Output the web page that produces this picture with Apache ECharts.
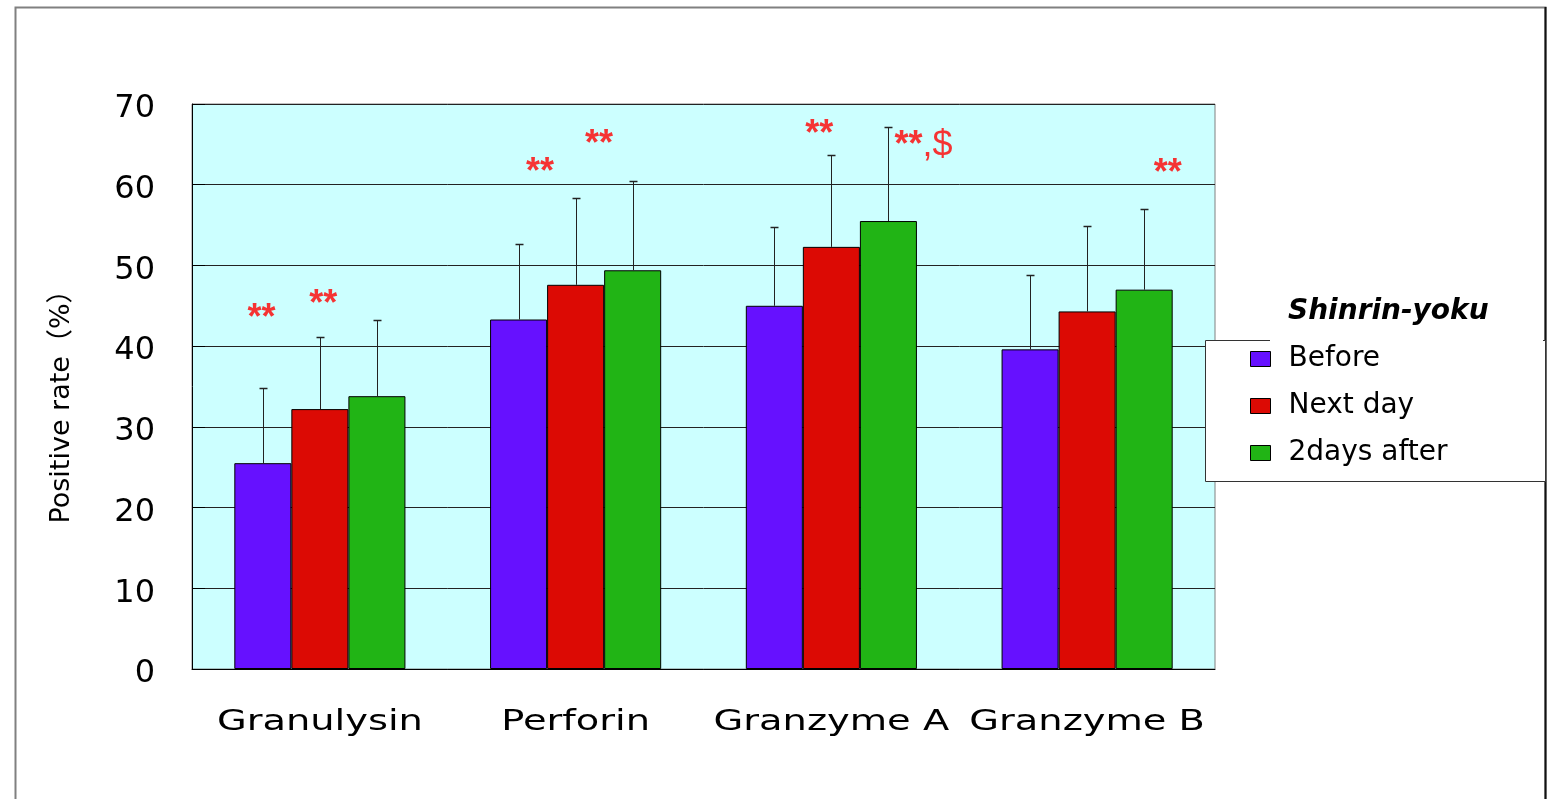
<!DOCTYPE html>
<html>
<head>
<meta charset="utf-8">
<script src="https://cdn.jsdelivr.net/npm/echarts@6/dist/echarts.min.js"></script>
<style>
  html, body { margin: 0; padding: 0; background: #fff; }
  #chart { width: 1548px; height: 799px; }
</style>
</head>
<body>
<div id="chart"></div>
<script>
// Categories and groups
const categories = ['Granulysin', 'Perforin', 'Granzyme A', 'Granzyme B'];
const groupNames = ['Before', 'Next day', '2days after'];

// Mean positive rate (%)
const beforeMean  = [25.5, 43.3, 45.0, 39.6];
const nextDayMean = [32.2, 47.6, 52.3, 44.3];
const twoDaysMean = [33.8, 49.4, 55.5, 47.0];

// Standard deviations (upper error bars)
const beforeSD  = [9.3, 9.3, 9.7, 9.2];
const nextDaySD = [8.9, 10.7, 11.4, 10.6];
const twoDaysSD = [9.5, 11.0, 11.6, 10.0];

// Y axis ticks
const yMin = 0, yMax = 70, yStep = 10;

// Significance marks: text, category, shift within category, level (%)
const markText     = ['**', '**', '**', '**', '**', '**,$', '**'];
const markCategory = [0, 0, 1, 1, 2, 2, 3];
const markShift    = [-0.228, 0.013, -0.139, 0.091, -0.047, 0.36, 0.315];
const markLevel    = [43.3, 45.1, 61.4, 64.9, 66.2, 64.8, 61.3];

const colors = ['#6611ff', '#dc0a04', '#21b415'];
const BAR_FRAC = 0.223;
const FONT = '"DejaVu Sans", "Noto Sans CJK JP", sans-serif';

const means = [beforeMean, nextDayMean, twoDaysMean];
const sds = [beforeSD, nextDaySD, twoDaysSD];

const errorData = [];
means.forEach((arr, s) => arr.forEach((m, c) => errorData.push([c, s, m, sds[s][c]])));

const markData = markText.map((t, i) => ({
  name: t,
  value: [markCategory[i] + markShift[i], markLevel[i]]
}));

const chart = echarts.init(document.getElementById('chart'), null, { renderer: 'canvas' });

const barSeries = groupNames.map((name, s) => ({
  name: name,
  type: 'bar',
  data: means[s],
  barWidth: (BAR_FRAC * 100) + '%',
  barGap: '0%',
  itemStyle: { color: colors[s], borderColor: '#000', borderWidth: 1 },
  emphasis: { disabled: true },
  z: 2
}));

chart.setOption({
  animation: false,
  grid: {
    left: 192, right: 333, top: 104, bottom: 130,
    show: true, backgroundColor: '#ccffff', borderColor: '#808080', borderWidth: 1
  },
  legend: {
    data: groupNames,
    orient: 'vertical',
    left: 1250, top: 345,
    padding: 0,
    icon: 'rect',
    itemWidth: 20, itemHeight: 15, itemGap: 19,
    selectedMode: false,
    itemStyle: { borderColor: '#000', borderWidth: 1 },
    textStyle: { fontFamily: FONT, fontSize: 28, color: '#000', lineHeight: 28, padding: [0, 0, 0, 13] },
    z: 6
  },
  xAxis: [{
    type: 'category',
    data: categories,
    axisLine: { onZero: false, lineStyle: { color: '#000', width: 1 } },
    axisTick: { inside: true, length: 7, lineStyle: { color: '#000' } },
    axisLabel: { show: false },
    splitLine: { show: false }
  }, {
    type: 'value', min: -0.5, max: 3.5, show: false,
    axisLine: { show: false, onZero: false }, splitLine: { show: false }
  }],
  yAxis: {
    type: 'value', min: yMin, max: yMax, interval: yStep,
    axisLine: { show: true, onZero: false, lineStyle: { color: '#000', width: 1 } },
    axisTick: { show: true, inside: true, length: 13, lineStyle: { color: '#000' } },
    axisLabel: {
      margin: 37,
      formatter: '{v|{value}}',
      rich: { v: { fontFamily: FONT, fontSize: 32, color: '#000', padding: [10, 0, 0, 0] } }
    },
    splitLine: { show: true, lineStyle: { color: '#222', width: 1 } }
  },
  series: barSeries.concat([{
    type: 'custom',
    name: 'sd',
    data: errorData,
    encode: { x: 0, y: 2 },
    z: 3,
    silent: true,
    renderItem: function (params, api) {
      const c = api.value(0), s = api.value(1), m = api.value(2), sd = api.value(3);
      const bw = api.size([1, 0])[0] * BAR_FRAC;
      const p0 = api.coord([c, m]);
      const p1 = api.coord([c, m + sd]);
      const x = Math.round(p0[0] + (s - 1) * bw) + 0.5;
      const yTop = Math.round(p1[1]) + 0.5;
      return {
        type: 'group',
        children: [
          { type: 'line', shape: { x1: x, y1: p0[1], x2: x, y2: yTop }, style: { stroke: '#222', lineWidth: 1 } },
          { type: 'line', shape: { x1: x - 4, y1: yTop, x2: x + 4, y2: yTop }, style: { stroke: '#222', lineWidth: 1.5 } }
        ]
      };
    }
  }, {
    type: 'scatter',
    name: 'marks',
    xAxisIndex: 1,
    yAxisIndex: 0,
    data: markData,
    symbolSize: 0,
    silent: true,
    z: 4,
    label: {
      show: true, position: 'inside',
      formatter: (p) => p.name.replace(/\*+/g, (m) => '{s|' + m + '}').replace(/,\$/, '{d|,$}'),
      align: 'center', verticalAlign: 'middle',
      rich: {
        s: { color: '#ff0000', fontFamily: '"Liberation Sans", Arial, sans-serif', fontSize: 36, fontWeight: 'bold' },
        d: { color: '#ff0000', fontFamily: '"Liberation Sans", Arial, sans-serif', fontSize: 36 }
      }
    }
  }])
});

// Category labels, frame, legend box and axis title
const graphics = [
  { type: 'rect', silent: true, z: -10,
    shape: { x: 15.5, y: 7.5, width: 1530, height: 820 },
    style: { fill: 'none', stroke: '#808080', lineWidth: 2 } },
  { type: 'line', silent: true, z: -10,
    shape: { x1: 1545.5, y1: 7, x2: 1545.5, y2: 799 },
    style: { stroke: '#111', lineWidth: 2 } },
  { type: 'rect', silent: true, z: 3,
    shape: { x: 1205.5, y: 340.5, width: 340, height: 141 },
    style: { fill: '#fff', stroke: '#333', lineWidth: 1 } },
  { type: 'rect', silent: true, z: 4,
    shape: { x: 1270, y: 286, width: 273, height: 55.5 },
    style: { fill: '#fff' } },
  { type: 'text', silent: true, z: 5, x: 1288, y: 312,
    style: { text: 'Shinrin-yoku', font: 'italic bold 28px "DejaVu Sans", sans-serif',
             fill: '#000', align: 'left', verticalAlign: 'middle' } },
  { type: 'text', silent: true, z: 5, x: 62, y: 400, rotation: Math.PI / 2,
    style: { text: 'Positive rate（%）', font: '27px "DejaVu Sans", "Noto Sans CJK JP", sans-serif',
             fill: '#000', align: 'center', verticalAlign: 'middle' } }
];
categories.forEach((cat) => {
  const px = chart.convertToPixel({ xAxisIndex: 0 }, cat);
  graphics.push({
    type: 'text', silent: true, z: 5, x: px, y: 723, scaleX: 1.37,
    style: { text: cat, font: '28px "DejaVu Sans", sans-serif', fill: '#000',
             align: 'center', verticalAlign: 'middle' }
  });
});
chart.setOption({ graphic: graphics });
</script>
</body>
</html>
